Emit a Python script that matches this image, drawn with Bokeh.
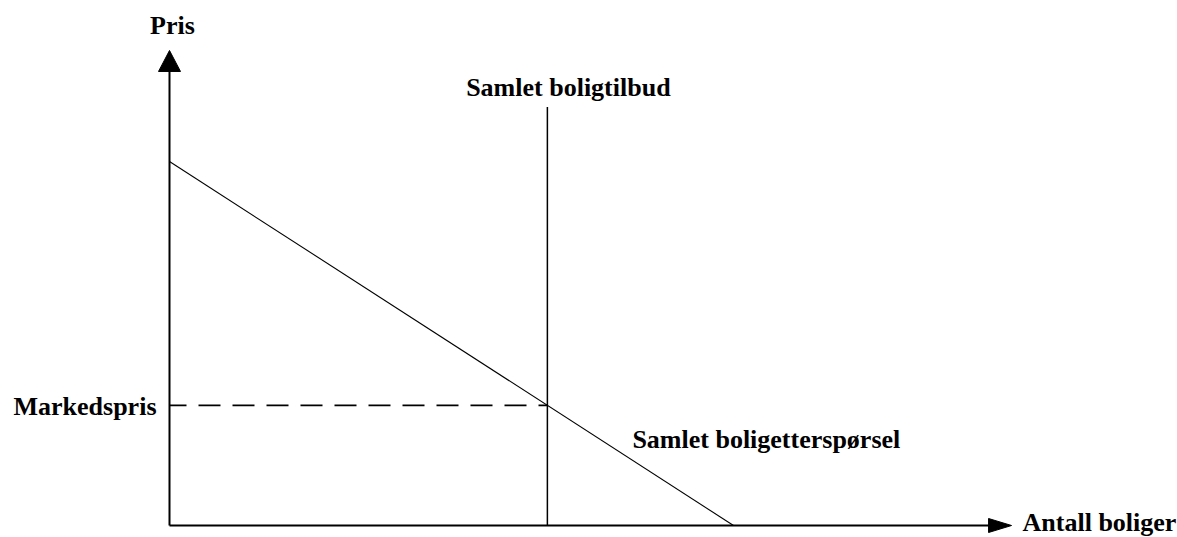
from bokeh.plotting import figure
from bokeh.models import Range1d
from bokeh.core.properties import value
from bokeh.embed import file_html
from bokeh.resources import INLINE

# ---- data (economic units) ----
demand_q = [0, 100]          # quantity
demand_p = [100, 0]          # price
supply_q = 67                # total housing supply (fixed)
supply_top = 115             # height of the supply line
market_price = 33            # equilibrium price
x_axis_end = 149.3           # arrow tip, quantity axis
y_axis_end = 130.5           # arrow tip, price axis

labels = ["Pris", "Samlet boligtilbud", "Markedspris",
          "Samlet boligetterspørsel", "Antall boliger"]

# ---- layout constants (pixels) ----
W, H = 1177, 537
PX_X, PX_Y = 5.64, 3.64       # pixels per unit
OX, OY = 169, 525             # origin in picture pixels
M = 0                         # offset of the frame in the picture

x_range = Range1d((M - OX) / PX_X, (M + W - OX) / PX_X)
y_range = Range1d((OY - (M + H)) / PX_Y, (OY - M) / PX_Y)

p = figure(width=W, height=H, x_range=x_range, y_range=y_range,
           output_backend="svg", toolbar_location=None, min_border=0)
p.axis.visible = False
p.grid.visible = False
p.outline_line_color = None
p.background_fill_color = "white"
p.border_fill_color = "white"

def dx(px):
    return px / PX_X

def dy(px):
    return px / PX_Y

# axes with arrow heads
head_len_y, head_half_y = 21, 11
head_len_x, head_half_x = 23, 7
p.line([0, 0], [0, y_axis_end - dy(head_len_y) + dy(1)], line_color="black", line_width=2)
p.line([0, x_axis_end - dx(head_len_x) + dx(1)], [0, 0], line_color="black", line_width=2)
p.patch([-dx(head_half_y), 0, dx(head_half_y)],
        [y_axis_end - dy(head_len_y), y_axis_end, y_axis_end - dy(head_len_y)],
        fill_color="black", line_color="black", line_width=1)
p.patch([x_axis_end - dx(head_len_x), x_axis_end, x_axis_end - dx(head_len_x)],
        [dy(head_half_x), 0, -dy(head_half_x)],
        fill_color="black", line_color="black", line_width=1)

# demand
p.line(demand_q, demand_p, line_color="black", line_width=1.1)
# supply
p.line([supply_q, supply_q], [0, supply_top], line_color="black", line_width=1.5)
# market price dashed line
p.line([0, supply_q], [market_price, market_price], line_color="black",
       line_width=1.6, line_dash="22 12", line_dash_offset=5)

font = value("Liberation Serif")
fs = "26px"

def label(x, y, txt, align):
    p.text(x=[x], y=[y], text=[txt], text_font=font, text_font_size=fs,
           text_font_style="bold", text_color="black", text_align=align,
           text_baseline="alphabetic")

label(dx(3), y_axis_end + dy(25), labels[0], "center")
label(supply_q + dx(21), supply_top + dy(19), labels[1], "center")
label(-dx(13), market_price - dy(1), labels[2], "right")
label(supply_q + dx(85), market_price - dy(34), labels[3], "left")
label(x_axis_end + dx(11), dy(3), labels[4], "left")

open("out.html", "w").write(file_html(p, INLINE))
